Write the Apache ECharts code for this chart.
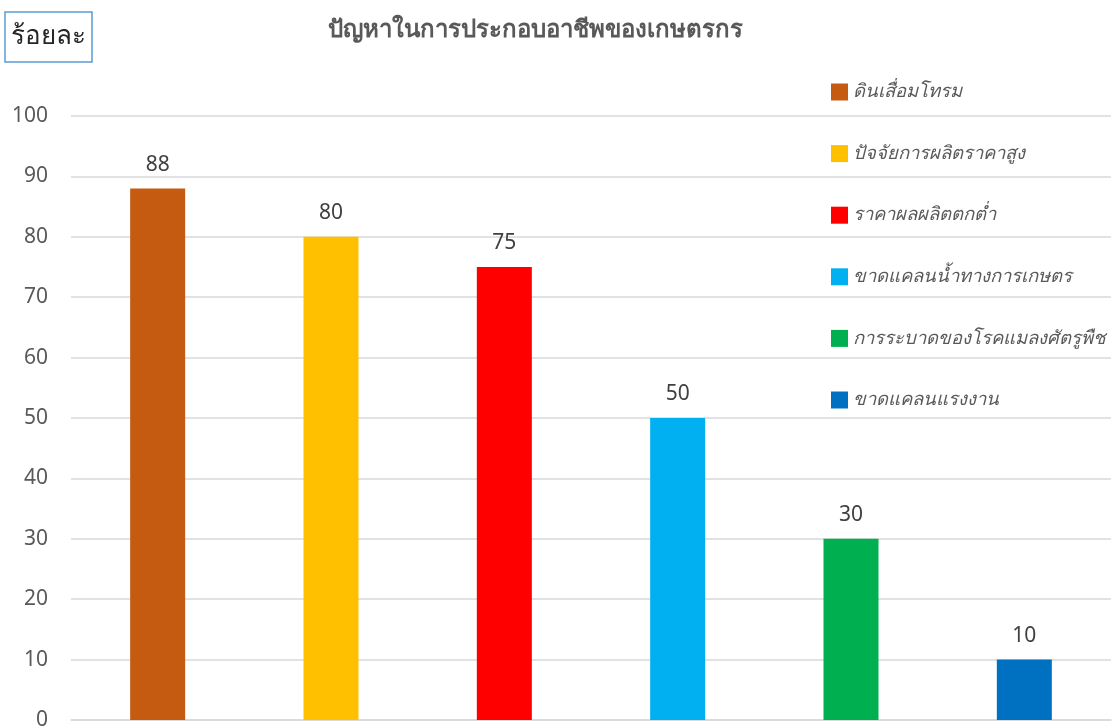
<!DOCTYPE html>
<html lang="th">
<head>
<meta charset="utf-8">
<title>ปัญหาในการประกอบอาชีพของเกษตรกร</title>
<script src="https://cdn.jsdelivr.net/npm/echarts@6/dist/echarts.min.js"></script>
<style>
    html, body { margin: 0; padding: 0; background: #fff; }
    #main { width: 1119px; height: 727px; }
</style>
</head>
<body>
<div id="main"></div>
<script type="text/javascript">
    // ประเภทปัญหา
    let categories = ['ดินเสื่อมโทรม', 'ปัจจัยการผลิตราคาสูง', 'ราคาผลผลิตตกต่ำ', 'ขาดแคลนน้ำทางการเกษตร', 'การระบาดของโรคแมลงศัตรูพืช', 'ขาดแคลนแรงงาน'];
    // ร้อยละ
    let values = [88, 80, 75, 50, 30, 10];
    let colors = ['#C55A11', '#FFC000', '#FF0000', '#00B0F0', '#00B050', '#0070C0'];
    let yTicks = { min: 0, max: 100, interval: 10 };

    let font = '"Noto Sans", "DejaVu Sans", sans-serif';

    // แต่ละแท่งเป็น series ของตัวเอง เพื่อให้มีสีและ legend แยกกัน
    let series = categories.map((name, i) => {
        let data = categories.map((c, j) => (j === i ? values[i] : '-'));
        return {
            name: name,
            type: 'bar',
            barWidth: 55,
            barGap: '-100%',
            itemStyle: { color: colors[i] },
            label: {
                show: true,
                position: 'top',
                distance: 13,
                fontSize: 21,
                color: '#404040',
                fontFamily: font
            },
            data: data
        };
    });

    let chart = echarts.init(document.getElementById('main'));

    let option = {
        animation: false,
        title: [
            {
                text: 'ปัญหาในการประกอบอาชีพของเกษตรกร',
                left: 530,
                textAlign: 'center',
                top: 13,
                textStyle: { fontSize: 24, fontWeight: 'bold', color: '#595959', fontFamily: font }
            },
            {
                text: 'ร้อยละ',
                left: 5,
                top: 12,
                borderColor: '#5B9BD5',
                borderWidth: 1.5,
                padding: [12, 6, 12, 6],
                textStyle: { fontSize: 26, fontWeight: 'normal', color: '#262626', fontFamily: font }
            }
        ],
        legend: {
            orient: 'vertical',
            left: 826,
            top: 77,
            itemWidth: 17,
            itemHeight: 17,
            itemGap: 41.6,
            icon: 'rect',
            textStyle: { fontSize: 18.5, fontStyle: 'italic', color: '#595959', lineHeight: 20, fontFamily: font },
            data: categories
        },
        grid: { left: 71, right: 8, top: 116, bottom: 7, containLabel: false, outerBoundsMode: 'none' },
        xAxis: {
            type: 'category',
            data: categories,
            axisLine: { show: true, lineStyle: { color: '#D9D9D9', width: 1.5 } },
            axisTick: { show: false },
            axisLabel: { show: false }
        },
        yAxis: {
            type: 'value',
            min: yTicks.min,
            max: yTicks.max,
            interval: yTicks.interval,
            axisLine: { show: false },
            axisTick: { show: false },
            axisLabel: { fontSize: 21, color: '#595959', margin: 23, fontFamily: font },
            splitLine: { lineStyle: { color: '#D9D9D9', width: 1.5 } }
        },
        series: series
    };

    chart.setOption(option);
</script>
</body>
</html>
